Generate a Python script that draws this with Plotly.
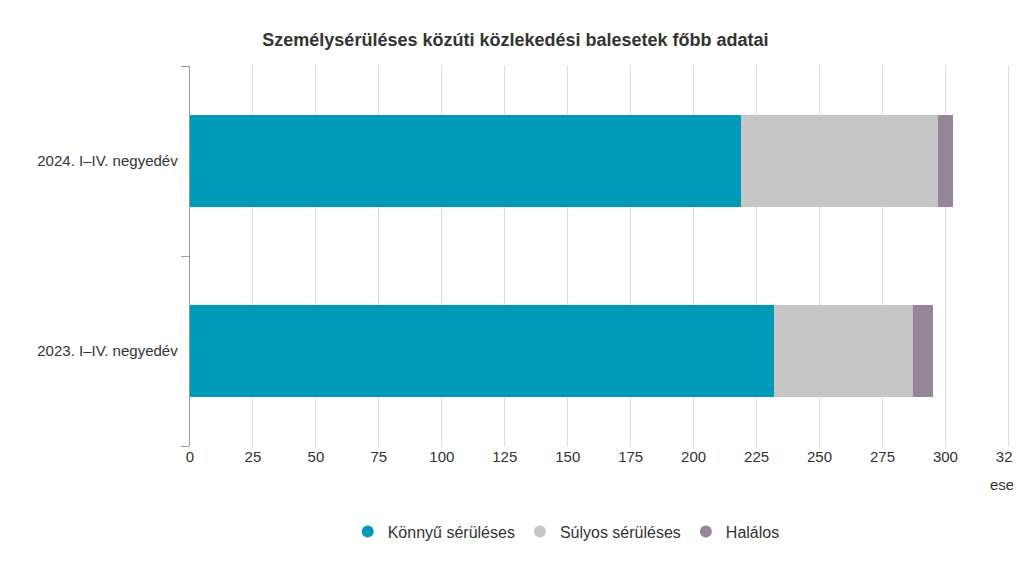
import plotly.graph_objects as go

categories = ["2023. I–IV. negyedév", "2024. I–IV. negyedév"]
konnyu = [232, 219]
sulyos = [55, 78]
halalos = [8, 6]
tick_vals = list(range(0, 326, 25))

fig = go.Figure()
series = [("Könnyű sérüléses", konnyu, "#009ab9"),
          ("Súlyos sérüléses", sulyos, "#c6c6c6"),
          ("Halálos", halalos, "#96849b")]
for name, vals, color in series:
    fig.add_trace(go.Bar(y=categories, x=vals, name=name, orientation="h",
                         marker=dict(color=color, line=dict(width=0)),
                         showlegend=False,
                         hovertemplate="%{y}: %{x}<extra>" + name + "</extra>"))
# legend entries with round markers
for name, vals, color in series:
    fig.add_trace(go.Scatter(x=[None], y=[None], mode="markers", name=name,
                             marker=dict(color=color, size=18, symbol="circle")))

fig.update_layout(
    barmode="stack",
    bargap=0.52,
    width=1021, height=570,
    paper_bgcolor="white", plot_bgcolor="white",
    font=dict(family="Arial, Liberation Sans, sans-serif", size=15, color="#333"),
    title=dict(text="<b>Személysérüléses közúti közlekedési balesetek főbb adatai</b>",
               x=0.497, xref="container", xanchor="center", y=0.955,
               font=dict(size=18, color="#333"), automargin=False),
    margin=dict(l=182, r=3, t=58, b=132, autoexpand=False),
    legend=dict(orientation="h", x=0.45, xanchor="center", y=-0.225, yanchor="middle",
                font=dict(size=16), itemsizing="constant", traceorder="normal"),
    xaxis=dict(range=[0, 332], tickvals=tick_vals, showgrid=True, gridcolor="#ddd",
               zeroline=False, showline=False, ticks="", tickfont=dict(size=15),
               automargin=False),
    yaxis=dict(showline=True, linecolor="#999", ticks="outside", ticklen=8,
               tickcolor="#999", tickson="boundaries", tickfont=dict(size=15),
               ticksuffix="  ", automargin=False),
)
fig.add_annotation(text="eset", xref="x", yref="paper", x=330, y=-0.13,
                   xanchor="right", showarrow=False, font=dict(size=15, color="#333"))

fig.write_html("out.html")
